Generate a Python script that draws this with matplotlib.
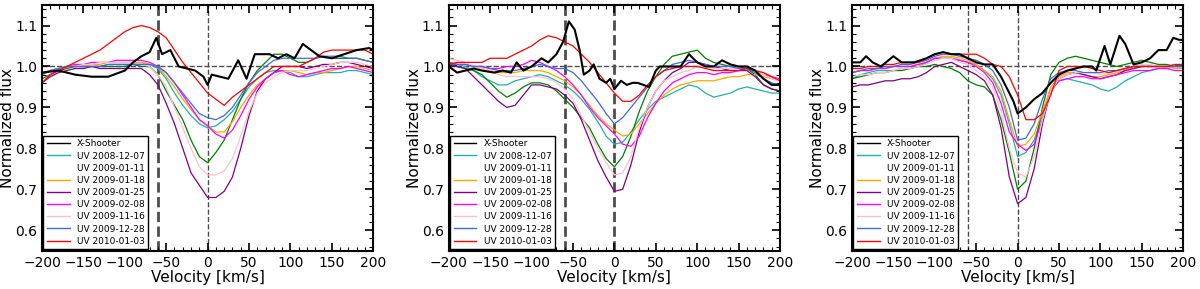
#!/usr/bin/env python3
"""Normalized line profiles: X-Shooter vs. UV epochs, three lines side by side."""

import numpy as np
import matplotlib
matplotlib.use('Agg')
from matplotlib import pyplot as plt
from matplotlib.lines import Line2D

# common velocity grid of the UV spectra (km/s)
vel = np.arange(-200, 201, 10)

labels = ['UV 2008-12-07', 'UV 2009-01-11', 'UV 2009-01-18', 'UV 2009-01-25',
          'UV 2009-02-08', 'UV 2009-11-16', 'UV 2009-12-28', 'UV 2010-01-03']
colors = ['#20b2aa', 'green', 'orange', 'purple', 'magenta', 'pink',
          'royalblue', 'red']
legend_colors = ['#20b2aa', 'white', 'orange', 'purple', 'magenta', 'pink',
                 'royalblue', 'red']

# ---- panel 1 ----
xs1_v = [-200, -180, -160, -140, -120, -100, -90, -80, -70, -62, -55, -45, -35,
         -25, -15, -5, 0, 5, 15, 25, 37, 47, 57, 75, 85, 95, 105, 115, 125,
         135, 150, 165, 180, 195, 200]
xs1_f = [0.985, 0.99, 0.98, 0.975, 0.975, 0.99, 1.01, 1.025, 1.035, 1.07,
         1.03, 1.04, 1.0, 0.995, 0.99, 0.975, 0.955, 0.98, 0.975, 0.97, 1.015,
         0.97, 1.03, 1.03, 1.02, 1.03, 1.02, 1.055, 1.04, 1.025, 1.02, 1.03,
         1.04, 1.045, 1.04]
p1_cyan = [0.98, 0.99, 0.995, 1.0, 1.0, 1.0, 1.0, 1.0, 1.005, 1.005, 1.005,
           1.005, 1.01, 1.005, 0.995, 0.97, 0.935, 0.905, 0.88, 0.86, 0.85,
           0.855, 0.87, 0.89, 0.92, 0.95, 0.97, 0.985, 0.99, 0.99, 0.985,
           0.975, 0.975, 0.98, 0.985, 0.985, 0.985, 0.99, 0.99, 0.985, 0.98]
p1_green = [0.97, 0.98, 0.99, 0.995, 1.0, 1.0, 1.0, 1.0, 1.0, 1.0, 1.0, 1.005,
            1.0, 1.0, 0.98, 0.94, 0.905, 0.87, 0.82, 0.78, 0.765, 0.79, 0.82,
            0.87, 0.92, 0.96, 0.99, 1.01, 1.03, 1.03, 1.02, 1.01, 1.01, 1.02,
            1.025, 1.02, 1.02, 1.02, 1.02, 1.015, 1.01]
p1_orange = [0.98, 0.99, 0.995, 1.0, 1.0, 1.0, 1.005, 1.005, 1.01, 1.01,
             1.01, 1.01, 1.01, 1.005, 1.0, 0.975, 0.95, 0.92, 0.895, 0.87,
             0.855, 0.84, 0.84, 0.865, 0.9, 0.93, 0.955, 0.97, 0.985, 0.99,
             0.99, 0.985, 0.98, 0.985, 0.985, 0.99, 0.995, 1.0, 1.0, 0.995,
             0.99]
p1_purple = [0.96, 0.975, 0.985, 0.99, 0.995, 0.995, 1.0, 0.995, 0.995,
             0.995, 0.995, 0.995, 0.995, 0.98, 0.955, 0.91, 0.86, 0.8, 0.74,
             0.71, 0.68, 0.68, 0.695, 0.73, 0.8, 0.88, 0.94, 0.97, 0.985, 1.0,
             1.0, 1.0, 0.995, 1.0, 1.005, 1.005, 1.01, 1.01, 1.005, 1.0, 0.995]
p1_magenta = [0.985, 0.99, 0.995, 1.0, 1.005, 1.005, 1.01, 1.01, 1.01, 1.015,
              1.015, 1.015, 1.015, 1.01, 1.0, 0.985, 0.96, 0.93, 0.9, 0.87,
              0.855, 0.835, 0.825, 0.845, 0.88, 0.92, 0.95, 0.97, 0.985,
              0.99, 0.98, 0.975, 0.98, 0.985, 0.99, 0.995, 0.995, 1.0, 0.995,
              0.99, 0.985]
p1_pink = [0.98, 0.99, 0.995, 1.0, 1.0, 1.005, 1.005, 1.01, 1.01, 1.01, 1.01,
           1.01, 1.005, 1.0, 0.98, 0.95, 0.9, 0.85, 0.8, 0.755, 0.735, 0.735,
           0.745, 0.775, 0.83, 0.89, 0.935, 0.96, 0.975, 0.985, 0.99, 0.99,
           0.99, 0.995, 1.0, 1.005, 1.01, 1.01, 1.01, 1.005, 1.0]
p1_blue = [0.98, 0.99, 0.995, 1.0, 1.0, 1.0, 1.0, 1.0, 1.005, 1.005, 1.005,
           1.005, 1.005, 1.005, 1.0, 0.985, 0.96, 0.935, 0.91, 0.885, 0.875,
           0.87, 0.88, 0.9, 0.93, 0.96, 0.985, 1.0, 1.015, 1.02, 1.02, 1.02,
           1.02, 1.02, 1.025, 1.025, 1.025, 1.02, 1.02, 1.015, 1.01]
p1_red = [0.96, 0.98, 0.99, 1.0, 1.01, 1.02, 1.03, 1.04, 1.055, 1.07, 1.085,
          1.095, 1.1, 1.095, 1.085, 1.07, 1.04, 1.01, 0.985, 0.96, 0.935, 0.92,
          0.905, 0.925, 0.94, 0.955, 0.97, 0.985, 1.0, 1.0, 1.0, 1.0, 1.01,
          1.02, 1.035, 1.04, 1.04, 1.04, 1.04, 1.04, 1.03]

# ---- panel 2 ----
xs2_v = [-200, -190, -180, -170, -160, -145, -135, -125, -118, -110, -100, -88,
         -80, -70, -62, -55, -48, -42, -37, -30, -25, -18, -10, -5, 0, 8, 15,
         22, 28, 35, 42, 50, 55, 70, 80, 90, 100, 110, 120, 130, 140, 150, 160,
         170, 180, 190, 200]
xs2_f = [1.0, 0.985, 0.99, 0.995, 0.99, 0.985, 0.99, 0.985, 1.01, 0.99, 1.0,
         1.02, 1.01, 1.03, 1.06, 1.11, 1.09, 1.04, 0.98, 0.99, 1.005, 0.97,
         0.96, 0.97, 0.945, 0.965, 0.955, 0.96, 0.96, 0.955, 0.95, 0.99, 1.0,
         1.0, 1.0, 1.03, 1.01, 1.0, 1.0, 1.015, 1.005, 1.0, 1.0, 0.99, 0.97,
         0.955, 0.955]
p2_cyan = [1.01, 1.005, 1.0, 0.99, 0.975, 0.965, 0.955, 0.955, 0.965, 0.97,
           0.975, 0.98, 0.975, 0.965, 0.955, 0.94, 0.92, 0.895, 0.865, 0.83,
           0.81, 0.815, 0.84, 0.87, 0.895, 0.915, 0.925, 0.935, 0.945, 0.955,
           0.95, 0.935, 0.925, 0.93, 0.935, 0.945, 0.95, 0.945, 0.94, 0.935,
           0.935]
p2_green = [1.0, 1.0, 0.995, 0.99, 0.98, 0.96, 0.94, 0.925, 0.935, 0.95, 0.96,
            0.96, 0.955, 0.94, 0.92, 0.9, 0.875, 0.85, 0.81, 0.775, 0.755,
            0.78, 0.83, 0.89, 0.94, 0.975, 1.005, 1.025, 1.03, 1.035, 1.04,
            1.02, 1.01, 1.005, 1.0, 1.0, 0.995, 0.98, 0.955, 0.945, 0.94]
p2_orange = [1.01, 1.005, 1.005, 1.0, 0.995, 0.99, 0.985, 0.985, 0.985, 0.99,
             0.99, 0.99, 0.985, 0.975, 0.965, 0.95, 0.93, 0.905, 0.88, 0.86,
             0.845, 0.83, 0.835, 0.86, 0.885, 0.91, 0.93, 0.945, 0.955, 0.96,
             0.965, 0.965, 0.965, 0.97, 0.975, 0.975, 0.98, 0.98, 0.975, 0.97,
             0.965]
p2_purple = [1.0, 1.0, 0.995, 0.975, 0.955, 0.935, 0.915, 0.9, 0.905, 0.93,
             0.955, 0.955, 0.95, 0.945, 0.93, 0.91, 0.87, 0.82, 0.77, 0.73,
             0.695, 0.7, 0.76, 0.84, 0.9, 0.94, 0.965, 0.985, 0.995, 1.01,
             1.01, 1.005, 1.0, 0.995, 0.99, 0.99, 0.99, 0.975, 0.955, 0.945,
             0.94]
p2_magenta = [1.01, 1.005, 1.005, 1.0, 1.0, 0.995, 0.995, 1.0, 1.0, 1.005,
              1.015, 1.01, 1.0, 0.99, 0.975, 0.955, 0.93, 0.9, 0.875, 0.855,
              0.835, 0.81, 0.805, 0.83, 0.875, 0.91, 0.94, 0.96, 0.97, 0.98,
              0.985, 0.985, 0.98, 0.985, 0.985, 0.99, 0.995, 0.99, 0.98, 0.975,
              0.97]
p2_pink = [1.02, 1.015, 1.01, 1.0, 0.995, 0.99, 0.98, 0.975, 0.975, 0.975,
           0.975, 0.975, 0.97, 0.96, 0.945, 0.92, 0.88, 0.84, 0.8, 0.765,
           0.735, 0.74, 0.78, 0.85, 0.9, 0.94, 0.965, 0.975, 0.985, 0.99, 1.0,
           1.0, 0.995, 0.995, 0.995, 0.995, 0.995, 0.99, 0.98, 0.97, 0.965]
p2_blue = [1.005, 1.005, 1.005, 1.0, 1.0, 0.995, 0.99, 0.99, 0.99, 0.995,
           1.0, 1.005, 1.0, 0.995, 0.995, 0.985, 0.965, 0.94, 0.915, 0.885,
           0.86, 0.875, 0.9, 0.925, 0.95, 0.975, 0.99, 1.005, 1.01, 1.015,
           1.01, 1.005, 1.0, 1.0, 1.0, 0.995, 0.995, 0.985, 0.97, 0.96, 0.955]
p2_red = [1.005, 1.01, 1.01, 1.01, 1.01, 1.02, 1.02, 1.02, 1.03, 1.04, 1.05,
          1.065, 1.075, 1.07, 1.06, 1.05, 1.03, 1.01, 0.985, 0.96, 0.935,
          0.915, 0.915, 0.93, 0.955, 0.975, 0.99, 0.995, 1.0, 1.0, 1.0, 0.995,
          0.99, 0.99, 0.99, 0.99, 0.995, 0.99, 0.985, 0.975, 0.965]

# ---- panel 3 ----
xs3_v = [-200, -190, -183, -175, -165, -150, -140, -125, -110, -100, -90, -80,
         -70, -60, -50, -40, -30, -20, -10, -5, 0, 10, 20, 30, 40, 50, 60, 70,
         80, 90, 95, 105, 112, 123, 130, 140, 150, 160, 170, 180, 188, 195,
         200]
xs3_f = [1.01, 1.01, 1.025, 1.01, 1.0, 1.025, 1.01, 1.01, 1.02, 1.03, 1.035,
         1.03, 1.03, 1.02, 1.01, 1.005, 1.005, 0.975, 0.935, 0.915, 0.885,
         0.9, 0.92, 0.935, 0.96, 0.98, 0.99, 0.995, 1.0, 1.0, 0.99, 1.05,
         1.005, 1.075, 1.055, 1.005, 1.01, 1.02, 1.04, 1.04, 1.07, 1.065,
         1.065]
p3_cyan = [0.97, 0.98, 0.985, 0.99, 0.99, 0.99, 0.995, 0.995, 1.0, 1.01, 1.02,
           1.02, 1.02, 1.015, 1.01, 1.005, 0.99, 0.97, 0.93, 0.86, 0.78, 0.79,
           0.82, 0.88, 0.94, 0.965, 0.97, 0.965, 0.96, 0.955, 0.945, 0.94,
           0.95, 0.965, 0.975, 0.985, 0.99, 0.995, 0.995, 1.0, 1.0]
p3_green = [0.97, 0.975, 0.98, 0.985, 0.985, 0.99, 0.99, 0.995, 1.0, 1.0,
            1.005, 1.0, 0.995, 0.985, 0.965, 0.955, 0.95, 0.93, 0.87, 0.79,
            0.7, 0.72, 0.8, 0.9, 0.98, 1.01, 1.02, 1.025, 1.02, 1.015, 1.01,
            1.005, 1.0, 1.005, 1.01, 1.015, 1.01, 1.005, 1.005, 1.0, 1.0]
p3_orange = [0.985, 0.99, 0.99, 0.995, 0.995, 1.0, 1.0, 1.0, 1.005, 1.01,
             1.02, 1.025, 1.025, 1.02, 1.015, 1.005, 0.99, 0.975, 0.94, 0.87,
             0.805, 0.81, 0.835, 0.89, 0.95, 0.975, 0.985, 0.985, 0.98, 0.975,
             0.975, 0.98, 0.985, 0.99, 0.995, 1.0, 1.0, 1.0, 1.0, 0.995,
             0.995]
p3_purple = [0.95, 0.955, 0.955, 0.96, 0.965, 0.965, 0.97, 0.97, 0.975, 0.985,
             1.0, 1.005, 1.01, 1.0, 0.99, 0.98, 0.965, 0.93, 0.85, 0.73,
             0.665, 0.68, 0.75, 0.86, 0.94, 0.97, 0.98, 0.985, 0.98, 0.975,
             0.97, 0.975, 0.98, 0.99, 0.995, 1.0, 1.0, 1.0, 1.0, 1.0, 1.0]
p3_magenta = [0.985, 0.99, 0.99, 0.995, 0.995, 1.0, 1.0, 1.0, 1.005, 1.01,
              1.02, 1.02, 1.02, 1.015, 1.01, 1.0, 0.985, 0.96, 0.91, 0.84,
              0.81, 0.795, 0.81, 0.87, 0.94, 0.965, 0.97, 0.975, 0.975, 0.97,
              0.97, 0.975, 0.98, 0.985, 0.99, 0.99, 0.99, 0.995, 0.995, 0.99,
              0.99]
p3_pink = [0.975, 0.98, 0.98, 0.985, 0.985, 0.99, 0.995, 0.995, 1.0, 1.005,
           1.015, 1.02, 1.02, 1.01, 1.005, 0.99, 0.975, 0.95, 0.89, 0.8, 0.74,
           0.73, 0.78, 0.87, 0.94, 0.97, 0.98, 0.985, 0.985, 0.985, 0.98,
           0.985, 0.99, 0.995, 1.0, 1.005, 1.005, 1.0, 1.0, 1.0, 1.0]
p3_blue = [0.985, 0.99, 0.995, 0.995, 1.0, 1.0, 1.005, 1.005, 1.01, 1.015,
           1.025, 1.03, 1.03, 1.025, 1.02, 1.015, 1.005, 0.99, 0.955, 0.9,
           0.82, 0.825, 0.86, 0.92, 0.97, 0.985, 0.99, 0.99, 0.985, 0.985,
           0.985, 0.99, 0.99, 0.995, 1.0, 1.0, 1.0, 1.0, 1.0, 1.0, 1.0]
p3_red = [0.995, 0.995, 1.0, 1.0, 1.005, 1.005, 1.01, 1.01, 1.01, 1.02, 1.03,
          1.035, 1.03, 1.03, 1.03, 1.03, 1.02, 1.005, 1.0, 0.975, 0.93, 0.87,
          0.87, 0.885, 0.93, 0.99, 1.0, 1.0, 1.0, 0.995, 0.99, 0.985, 0.99,
          0.995, 1.0, 1.0, 1.0, 1.0, 1.0, 1.005, 1.005]

panels = [
    (xs1_v, xs1_f, [p1_cyan, p1_green, p1_orange, p1_purple, p1_magenta,
                    p1_pink, p1_blue, p1_red], (2.0, 1.0)),
    (xs2_v, xs2_f, [p2_cyan, p2_green, p2_orange, p2_purple, p2_magenta,
                    p2_pink, p2_blue, p2_red], (2.0, 2.0)),
    (xs3_v, xs3_f, [p3_cyan, p3_green, p3_orange, p3_purple, p3_magenta,
                    p3_pink, p3_blue, p3_red], (1.0, 1.0)),
]

fig = plt.figure(figsize=(12, 2.89), dpi=100)
lefts = [0.035, 0.374, 0.71]

for left, (xv, xf, uv, vlw) in zip(lefts, panels):
    ax = fig.add_axes([left, 0.1325, 0.276, 0.85])

    ax.axhline(1.0, color='0.3', ls='--', lw=1.0, zorder=1)
    ax.axvline(-60, color='0.3', ls='--', lw=vlw[0], zorder=1)
    ax.axvline(0, color='0.3', ls='--', lw=vlw[1], zorder=1)

    ax.plot(xv, xf, color='black', lw=1.5, zorder=3)
    for flux, col in zip(uv, colors):
        ax.plot(vel, flux, color=col, lw=0.9, zorder=2)

    ax.set_xlim(-200, 200)
    ax.set_ylim(0.55, 1.15)
    ax.set_xticks(np.arange(-200, 201, 50))
    ax.set_yticks([0.6, 0.7, 0.8, 0.9, 1.0, 1.1])
    ax.set_xticks(np.arange(-200, 201, 10), minor=True)
    ax.set_yticks(np.arange(0.56, 1.15, 0.02), minor=True)
    ax.tick_params(which='both', direction='in', top=True, right=True,
                   labelsize=10)
    ax.tick_params(which='major', length=6, width=1.2)
    ax.tick_params(which='minor', length=3, width=0.8)
    for sp in ax.spines.values():
        sp.set_linewidth(1.5)
    ax.set_xlabel('Velocity [km/s]', fontsize=11, labelpad=0)
    ax.set_ylabel('Normalized flux', fontsize=11, labelpad=0)

    handles = [Line2D([], [], color='black', lw=1.0)]
    handles += [Line2D([], [], color=c, lw=1.0) for c in legend_colors]
    leg = ax.legend(handles, ['X-Shooter'] + labels, loc='lower left',
                    fontsize=6.5, fancybox=False, framealpha=1,
                    borderaxespad=0.15, handlelength=2.5, labelspacing=0.35,
                    borderpad=0.4)
    leg.get_frame().set_edgecolor('black')
    leg.get_frame().set_linewidth(1.0)

fig.savefig('out.png', dpi=100)
